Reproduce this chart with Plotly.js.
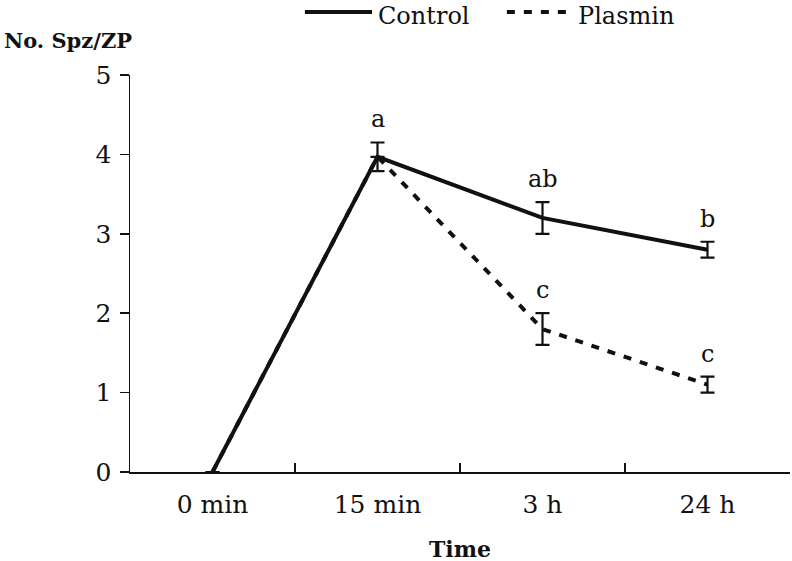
<!DOCTYPE html>
<html>
<head>
<meta charset="utf-8">
<script src="https://cdn.plot.ly/plotly-3.0.1.min.js"></script>
<style>html,body{margin:0;padding:0;background:#fff;}#chart{width:792px;height:561px;}</style>
</head>
<body>
<div id="chart"></div>
<script>
// ---- data ----
const timePoints = ["0 min", "15 min", "3 h", "24 h"];
const controlValues = [0, 3.97, 3.2, 2.8];
const controlErrors = [null, 0.18, 0.2, 0.1];
const plasminValues = [0, 3.97, 1.8, 1.1];
const plasminErrors = [null, null, 0.2, 0.1];
const controlLetters = [null, "a", "ab", "b"];
const plasminLetters = [null, null, "c", "c"];
const yTickVals = [0, 1, 2, 3, 4, 5];

const FONT = "DejaVu Serif";

const traces = [
  {
    x: timePoints, y: plasminValues, type: "scatter", mode: "lines", name: "Plasmin",
    line: {color: "#111", width: 4, dash: "8px,9px"},
    error_y: {type: "data", array: plasminErrors, visible: true, color: "#111", thickness: 2.2, width: 7},
    showlegend: false
  },
  {
    x: timePoints, y: controlValues, type: "scatter", mode: "lines", name: "Control",
    line: {color: "#111", width: 4},
    error_y: {type: "data", array: controlErrors, visible: true, color: "#111", thickness: 2.2, width: 7},
    showlegend: false
  }
];

const annotations = [];
function addLetters(letters, vals, errs) {
  letters.forEach((t, i) => {
    if (!t) return;
    annotations.push({
      x: timePoints[i], y: vals[i] + (errs[i] || 0), xref: "x", yref: "y",
      text: t, showarrow: false, yanchor: "middle", yshift: 23,
      font: {family: FONT, size: 24, color: "#111"}
    });
  });
}
addLetters(controlLetters, controlValues, controlErrors);
addLetters(plasminLetters, plasminValues, plasminErrors);

// axis titles
annotations.push({
  xref: "paper", yref: "paper", x: -0.194, y: 1.088, xanchor: "left", yanchor: "middle",
  text: "<b>No. Spz/ZP</b>", showarrow: false, font: {family: FONT, size: 21, color: "#111"}
});
annotations.push({
  xref: "paper", yref: "paper", x: 0.5, y: -0.193, xanchor: "center", yanchor: "middle",
  text: "<b>Time</b>", showarrow: false, font: {family: FONT, size: 22, color: "#111"}
});
// legend text
annotations.push({
  xref: "paper", yref: "paper", x: 0.3745, y: 1.1486, xanchor: "left", yanchor: "middle",
  text: "Control", showarrow: false, borderpad: 0, font: {family: FONT, size: 24, color: "#111"}
});
annotations.push({
  xref: "paper", yref: "paper", x: 0.677, y: 1.1486, xanchor: "left", yanchor: "middle",
  text: "Plasmin", showarrow: false, borderpad: 0, font: {family: FONT, size: 24, color: "#111"}
});

const shapes = [
  {type: "line", xref: "paper", yref: "paper", x0: 0.265, x1: 0.3667, y0: 1.1587, y1: 1.1587,
   line: {color: "#111", width: 4}},
  {type: "line", xref: "paper", yref: "paper", x0: 0.571, x1: 0.6697, y0: 1.1587, y1: 1.1587,
   line: {color: "#111", width: 4, dash: "8px,9px"}}
];

const layout = {
  width: 792, height: 561,
  margin: {l: 130, r: 2, t: 75, b: 89},
  paper_bgcolor: "#fff", plot_bgcolor: "#fff",
  font: {family: FONT, size: 23, color: "#111"},
  showlegend: false,
  xaxis: {
    type: "category", categoryarray: timePoints, range: [-0.5, 3.5],
    showline: true, linecolor: "#111", linewidth: 1.5,
    ticks: "inside", tickson: "boundaries", ticklen: 9, tickwidth: 1.5, tickcolor: "#111",
    showgrid: false, zeroline: false, fixedrange: true,
    tickfont: {family: FONT, size: 25, color: "#111"}, ticklabelstandoff: 9
  },
  yaxis: {
    range: [0, 5], tickvals: yTickVals,
    showline: true, linecolor: "#111", linewidth: 1.5,
    ticks: "outside", ticklen: 9, tickwidth: 1.5, tickcolor: "#111",
    showgrid: false, zeroline: false, fixedrange: true,
    tickfont: {family: FONT, size: 25, color: "#111"}, ticklabelstandoff: 3
  },
  annotations: annotations,
  shapes: shapes
};

Plotly.newPlot("chart", traces, layout, {displayModeBar: false, staticPlot: true});
</script>
</body>
</html>
